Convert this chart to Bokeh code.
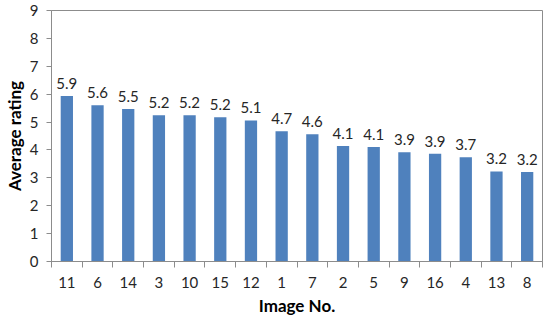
from bokeh.plotting import figure
from bokeh.models import ColumnDataSource, FixedTicker, Range1d
from bokeh.embed import file_html
from bokeh.resources import INLINE
from bokeh.core.properties import value

images = ["11", "6", "14", "3", "10", "15", "12", "1", "7", "2", "5", "9", "16", "4", "13", "8"]
ratings = [5.93, 5.60, 5.47, 5.24, 5.24, 5.17, 5.06, 4.67, 4.56, 4.14, 4.11, 3.92, 3.86, 3.74, 3.23, 3.21]
y_ticks = [0, 1, 2, 3, 4, 5, 6, 7, 8, 9]

xs = [i + 0.5 for i in range(len(images))]
labels = ["%.1f" % v for v in ratings]
src = ColumnDataSource(dict(x=xs, y=ratings, lab=labels))

FONT = "Lato"
p = figure(frame_width=491, frame_height=251, output_backend="svg", toolbar_location=None,
           x_range=Range1d(0, len(images)), y_range=Range1d(0, 9),
           min_border_left=45, min_border_right=1, min_border_top=10, min_border_bottom=48)

p.vbar(x="x", top="y", width=0.4, source=src, fill_color="#4F81BD", line_color=None)
p.text(x="x", y="y", text="lab", source=src, text_align="center", text_baseline="bottom",
       y_offset=-7, text_font=value(FONT), text_font_size="15px", text_color="#262626")

p.xgrid.visible = False
p.ygrid.visible = False
p.outline_line_color = "#8c8c8c"
p.outline_line_width = 1

xa = p.xaxis[0]
xa.ticker = FixedTicker(ticks=xs, minor_ticks=list(range(len(images) + 1)))
xa.major_label_overrides = {x: lab for x, lab in zip(xs, images)}
xa.major_tick_out = 0
xa.major_tick_in = 0
xa.minor_tick_out = 6
xa.minor_tick_in = 0
xa.minor_tick_line_color = "#8c8c8c"
xa.axis_line_color = "#8c8c8c"
xa.major_label_standoff = 9
xa.major_label_text_font = FONT
xa.major_label_text_font_size = "15px"
xa.major_label_text_color = "#262626"
xa.axis_label = "Image No."
xa.axis_label_text_font = FONT
xa.axis_label_text_font_style = "bold"
xa.axis_label_text_font_size = "17px"
xa.axis_label_text_color = "#000000"
xa.axis_label_standoff = 4

ya = p.yaxis[0]
ya.ticker = FixedTicker(ticks=y_ticks, minor_ticks=[])
ya.major_tick_out = 5
ya.major_tick_in = 0
ya.major_tick_line_color = "#8c8c8c"
ya.axis_line_color = "#8c8c8c"
ya.major_label_standoff = 8
ya.major_label_text_font = FONT
ya.major_label_text_font_size = "15px"
ya.major_label_text_color = "#262626"
ya.axis_label = "Average rating"
ya.axis_label_text_font = FONT
ya.axis_label_text_font_style = "bold"
ya.axis_label_text_font_size = "17px"
ya.axis_label_text_color = "#000000"
ya.axis_label_standoff = 2

open("out.html", "w").write(file_html(p, INLINE))
